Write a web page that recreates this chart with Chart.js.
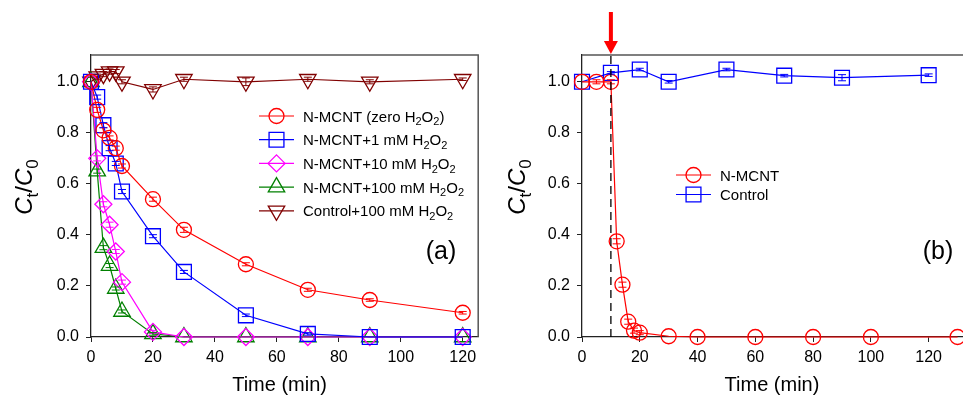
<!DOCTYPE html>
<html>
<head>
<meta charset="utf-8">
<script src="https://cdn.jsdelivr.net/npm/chart.js@4.4.1/dist/chart.umd.min.js"></script>
<style>
  html, body { margin: 0; padding: 0; background: #fff; overflow: hidden; width: 963px; height: 403px; }
  #wrapA { position: absolute; left: 0; top: 0; width: 490px; height: 403px; }
  #wrapB { position: absolute; left: 490px; top: 0; width: 500px; height: 403px; }
</style>
</head>
<body>
<div id="wrapA"><canvas id="chartA" width="490" height="403"></canvas></div>
<div id="wrapB"><canvas id="chartB" width="500" height="403"></canvas></div>
<script>
// panel (a)
const timeA = [0, 2, 4, 6, 8, 10, 20, 30, 50, 70, 90, 120];
const zeroH2O2   = [1.0, 0.89, 0.81, 0.78, 0.74, 0.67, 0.54, 0.42, 0.285, 0.185, 0.145, 0.095];
const mM1        = [1.0, 0.94, 0.83, 0.74, 0.68, 0.57, 0.395, 0.255, 0.085, 0.012, 0, 0];
const mM10       = [1.0, 0.70, 0.52, 0.44, 0.335, 0.215, 0.02, 0, 0, 0, 0, 0];
const mM100      = [1.0, 0.65, 0.35, 0.28, 0.19, 0.10, 0.012, 0, 0, 0, 0, 0];
const ctrl100    = [1.0, 1.02, 1.03, 1.04, 1.04, 1.0, 0.97, 1.01, 1.0, 1.01, 1.0, 1.01];
const errZero    = [0, 0.01, 0.01, 0.008, 0.008, 0.008, 0.008, 0.01, 0.006, 0.006, 0.005, 0.005];
const err1       = [0, 0.008, 0.01, 0.01, 0.008, 0.008, 0.006, 0.006, 0.005, 0.005, 0, 0];
const err10      = [0, 0.01, 0.01, 0.01, 0.008, 0.008, 0.006, 0, 0, 0, 0, 0];
const err100     = [0, 0.008, 0.008, 0.008, 0.006, 0.006, 0.005, 0, 0, 0, 0, 0];
const errCtrl100 = [0, 0.01, 0.01, 0.01, 0.008, 0.008, 0.01, 0.008, 0.015, 0.008, 0.008, 0.005];
const labelsA = ['N-MCNT (zero H₂O₂)', 'N-MCNT+1 mM H₂O₂', 'N-MCNT+10 mM H₂O₂', 'N-MCNT+100 mM H₂O₂', 'Control+100 mM H₂O₂'];

// panel (b)
const timeNmcnt = [0, 5, 10, 12, 14, 16, 18, 20, 30, 40, 60, 80, 100, 130];
const nmcnt     = [1.0, 1.0, 1.0, 0.375, 0.205, 0.06, 0.025, 0.017, 0.003, 0, 0, 0, 0, 0];
const errNmcnt  = [0, 0.008, 0.008, 0.01, 0.01, 0.01, 0.01, 0.008, 0, 0, 0, 0, 0, 0];
const timeCtrl  = [0, 10, 20, 30, 50, 70, 90, 120];
const control   = [1.0, 1.035, 1.048, 1.0, 1.048, 1.024, 1.016, 1.026];
const errCtrl   = [0, 0.005, 0.005, 0.005, 0.005, 0.005, 0.012, 0.005];
const labelsB = ['N-MCNT', 'Control'];

const xTicks = [0, 20, 40, 60, 80, 100, 120];
const yTicks = [0, 0.2, 0.4, 0.6, 0.8, 1.0];

const FONT = '"Liberation Sans", Arial, sans-serif';
const SUBS = { '₀': '0', '₁': '1', '₂': '2', 'ₜ': 't' };

const pts = (xs, ys) => xs.map((x, i) => ({ x: x, y: ys[i] }));

function series(label, xs, ys, errs, color, style, radius, rotation) {
  return {
    label: label,
    data: pts(xs, ys),
    errors: errs,
    borderColor: color,
    backgroundColor: 'rgba(0,0,0,0)',
    borderWidth: 1.2,
    pointStyle: style,
    pointRotation: rotation || 0,
    pointRadius: radius,
    pointBorderWidth: 1.3,
    pointBorderColor: color,
    pointBackgroundColor: 'rgba(0,0,0,0)',
    tension: 0,
    clip: false
  };
}

// text with subscripts (and optional italic C)
function drawRich(ctx, text, x, y, size, align, italicC) {
  const parts = [];
  for (const ch of text) {
    if (SUBS[ch]) parts.push({ t: SUBS[ch], sub: true });
    else parts.push({ t: ch, it: italicC && ch === 'C' });
  }
  const fontOf = p => (p.it ? 'italic ' : '') + (p.sub ? Math.round(size * 0.7) : size) + 'px ' + FONT;
  let w = 0;
  parts.forEach(p => { ctx.font = fontOf(p); p.w = ctx.measureText(p.t).width; w += p.w; });
  let cx = align === 'center' ? x - w / 2 : x;
  ctx.textAlign = 'left';
  ctx.textBaseline = 'alphabetic';
  parts.forEach(p => {
    ctx.font = fontOf(p);
    ctx.fillText(p.t, cx, y + (p.sub ? size * 0.25 : 0));
    cx += p.w;
  });
}

function marker(ctx, style, rot, r, x, y, color) {
  ctx.save();
  ctx.strokeStyle = color;
  ctx.lineWidth = 1.3;
  ctx.beginPath();
  if (style === 'circle') {
    ctx.arc(x, y, r, 0, Math.PI * 2);
  } else if (style === 'rect') {
    const s = r * Math.SQRT1_2;
    ctx.rect(x - s, y - s, 2 * s, 2 * s);
  } else if (style === 'rectRot') {
    ctx.moveTo(x, y - r); ctx.lineTo(x + r, y); ctx.lineTo(x, y + r); ctx.lineTo(x - r, y); ctx.closePath();
  } else if (style === 'triangle') {
    let a = rot * Math.PI / 180;
    for (let k = 0; k < 3; k++) {
      const px = x + Math.sin(a) * r, py = y - Math.cos(a) * r;
      if (k === 0) ctx.moveTo(px, py); else ctx.lineTo(px, py);
      a += Math.PI * 2 / 3;
    }
    ctx.closePath();
  }
  ctx.stroke();
  ctx.restore();
}

const decor = {
  id: 'decor',
  afterDatasetsDraw(chart, args, o) {
    const ctx = chart.ctx;
    const ca = chart.chartArea;
    const xs = chart.scales.x, ys = chart.scales.y;
    ctx.save();
    // frame top/right
    ctx.strokeStyle = '#555';
    ctx.lineWidth = 1.5;
    ctx.beginPath();
    ctx.moveTo(ca.left, ca.top); ctx.lineTo(ca.right, ca.top); ctx.lineTo(ca.right, ca.bottom);
    ctx.stroke();

    // error bars
    chart.data.datasets.forEach((ds, di) => {
      const meta = chart.getDatasetMeta(di);
      ctx.strokeStyle = ds.borderColor;
      ctx.lineWidth = 1;
      meta.data.forEach((el, i) => {
        const e = ds.errors[i];
        if (!e) return;
        const v = ds.data[i].y;
        const t = ys.getPixelForValue(v + e), b = ys.getPixelForValue(v - e);
        ctx.beginPath();
        ctx.moveTo(el.x, t); ctx.lineTo(el.x, b);
        ctx.moveTo(el.x - 4, t); ctx.lineTo(el.x + 4, t);
        ctx.moveTo(el.x - 4, b); ctx.lineTo(el.x + 4, b);
        ctx.stroke();
      });
    });

    // marker line for injection (panel b)
    if (o.arrowAt !== undefined) {
      const px = xs.getPixelForValue(o.arrowAt);
      ctx.strokeStyle = '#000';
      ctx.lineWidth = 1.3;
      ctx.setLineDash([8, 5]);
      ctx.beginPath();
      ctx.moveTo(px, ys.getPixelForValue(0)); ctx.lineTo(px, ca.top);
      ctx.stroke();
      ctx.setLineDash([]);
      ctx.fillStyle = '#ff0000';
      ctx.fillRect(px - 2, 12, 4, 30);
      ctx.beginPath();
      ctx.moveTo(px - 7, 41); ctx.lineTo(px + 7, 41); ctx.lineTo(px, 54); ctx.closePath();
      ctx.fill();
    }

    // titles
    ctx.fillStyle = '#000';
    ctx.font = '20px ' + FONT;
    ctx.textAlign = 'center';
    ctx.textBaseline = 'middle';
    ctx.fillText('Time (min)', (ca.left + ca.right) / 2 - o.xTitleShift, 385);
    ctx.font = '25px ' + FONT;
    ctx.fillText(o.panel, o.panelX, 252);

    ctx.save();
    ctx.translate(o.yTitleX, 187);
    ctx.rotate(-Math.PI / 2);
    drawRich(ctx, 'Cₜ/C₀', 0, 0, 24, 'center', true);
    ctx.restore();

    // legend
    chart.data.datasets.forEach((ds, di) => {
      const y = o.legY + di * o.legDy;
      ctx.strokeStyle = ds.borderColor;
      ctx.lineWidth = 1.2;
      ctx.beginPath();
      ctx.moveTo(o.legX, y); ctx.lineTo(o.legX + 35, y);
      ctx.stroke();
      marker(ctx, ds.pointStyle, ds.pointRotation, ds.pointRadius, o.legX + 17.5, y, ds.borderColor);
      ctx.fillStyle = '#000';
      drawRich(ctx, ds.label, o.legX + 44, y + 5.5, 15, 'left', false);
    });
    ctx.restore();
  }
};

function options(xMax, yAxisWidth, padRight, deco) {
  return {
    responsive: false,
    animation: false,
    layout: { padding: { left: 0, right: padRight, top: 55, bottom: 0 } },
    plugins: { legend: { display: false }, tooltip: { enabled: false }, decor: deco },
    scales: {
      x: {
        type: 'linear', min: 0, max: xMax,
        afterBuildTicks: s => { s.ticks = xTicks.map(v => ({ value: v })); },
        afterFit: s => { s.height = 66; },
        ticks: { font: { size: 16, family: FONT }, color: '#000', padding: 6, maxRotation: 0 },
        grid: { drawOnChartArea: false, drawTicks: true, tickLength: 5, tickColor: '#222' },
        border: { color: '#222', width: 1.3 }
      },
      y: {
        type: 'linear', min: 0, max: 1.105,
        afterBuildTicks: s => { s.ticks = yTicks.map(v => ({ value: v })); },
        afterFit: s => { s.width = yAxisWidth; },
        ticks: { font: { size: 16, family: FONT }, color: '#000', padding: 7, callback: v => Number(v).toFixed(1) },
        grid: { drawOnChartArea: false, drawTicks: true, tickLength: 5, tickColor: '#222' },
        border: { color: '#222', width: 1.3 }
      }
    }
  };
}

new Chart(document.getElementById('chartA'), {
  type: 'line',
  data: {
    datasets: [
      series(labelsA[0], timeA, zeroH2O2, errZero, '#ff0000', 'circle', 7.5),
      series(labelsA[1], timeA, mM1, err1, '#0000ff', 'rect', 10.5),
      series(labelsA[2], timeA, mM10, err10, '#ff00ff', 'rectRot', 8.5),
      series(labelsA[3], timeA, mM100, err100, '#008000', 'triangle', 9.5, 0),
      series(labelsA[4], timeA, ctrl100, errCtrl100, '#800000', 'triangle', 9.5, 180)
    ]
  },
  options: options(125, 91, 9, {
    panel: '(a)', panelX: 441, yTitleX: 32, xTitleShift: 5,
    legX: 259, legY: 116, legDy: 23.7
  }),
  plugins: [decor]
});

new Chart(document.getElementById('chartB'), {
  type: 'line',
  data: {
    datasets: [
      series(labelsB[0], timeNmcnt, nmcnt, errNmcnt, '#ff0000', 'circle', 7.5),
      series(labelsB[1], timeCtrl, control, errCtrl, '#0000ff', 'rect', 10.5)
    ]
  },
  options: options(135, 92, 18, {
    panel: '(b)', panelX: 448, yTitleX: 35, xTitleShift: 5, arrowAt: 10,
    legX: 186, legY: 175, legDy: 19.5
  }),
  plugins: [decor]
});
</script>
</body>
</html>
